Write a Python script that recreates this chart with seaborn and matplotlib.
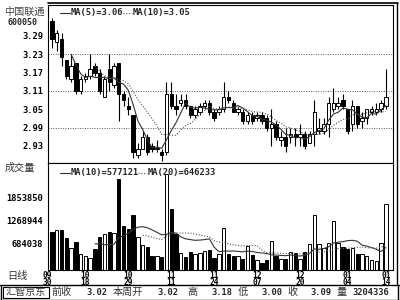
import numpy as np
import pandas as pd
import matplotlib
matplotlib.use("Agg")
import matplotlib.pyplot as plt
import seaborn as sns
from matplotlib.lines import Line2D
from matplotlib.patches import Rectangle

# ---------------- data ----------------
opens = [3.34, 3.27, 3.28, 3.21, 3.15, 3.20, 3.11, 3.15, 3.16, 3.19,
         3.17, 3.09, 3.18, 3.13, 3.20, 3.10, 3.06, 3.03, 2.90, 2.92,
         2.96, 2.93, 2.92, 2.91, 2.91, 3.10, 3.06, 3.07, 3.08, 3.06,
         3.03, 3.04, 3.06, 3.07, 3.04, 3.04, 3.05, 3.09, 3.07, 3.04,
         3.04, 3.01, 3.03, 3.02, 3.03, 3.02, 2.99, 3.00, 2.95, 2.96,
         2.96, 2.97, 2.96, 2.97, 2.94, 2.97, 2.98, 2.98, 3.00, 3.05,
         3.06, 3.08, 3.05, 3.00, 3.06, 3.01, 3.02, 3.04, 3.04, 3.05,
         3.06]
highs = [3.35, 3.31, 3.30, 3.21, 3.23, 3.20, 3.16, 3.17, 3.23, 3.20,
         3.18, 3.16, 3.23, 3.20, 3.20, 3.11, 3.09, 3.03, 2.94, 2.98,
         2.97, 2.94, 2.95, 2.92, 3.14, 3.14, 3.10, 3.10, 3.10, 3.06,
         3.06, 3.07, 3.08, 3.08, 3.05, 3.06, 3.14, 3.11, 3.08, 3.06,
         3.05, 3.04, 3.04, 3.04, 3.04, 3.03, 3.05, 3.01, 2.98, 2.99,
         2.99, 2.99, 3.00, 2.98, 2.98, 3.08, 3.02, 3.02, 3.09, 3.12,
         3.09, 3.10, 3.05, 3.08, 3.06, 3.04, 3.05, 3.06, 3.07, 3.08,
         3.18]
lows = [3.25, 3.24, 3.19, 3.15, 3.14, 3.10, 3.10, 3.14, 3.15, 3.16,
        3.10, 3.09, 3.11, 3.12, 3.01, 3.06, 3.03, 2.89, 2.89, 2.92,
        2.90, 2.91, 2.91, 2.88, 2.90, 3.05, 3.03, 3.06, 3.05, 3.02,
        3.02, 3.03, 3.05, 3.03, 3.01, 3.03, 3.04, 3.07, 3.04, 3.03,
        3.00, 3.00, 3.00, 3.01, 3.00, 2.98, 2.93, 2.95, 2.93, 2.91,
        2.94, 2.93, 2.93, 2.92, 2.94, 2.93, 2.97, 2.97, 2.96, 3.04,
        3.05, 3.05, 2.97, 2.98, 2.99, 2.99, 3.00, 3.03, 3.03, 3.04,
        3.05]
closes = [3.28, 3.30, 3.22, 3.16, 3.19, 3.11, 3.15, 3.16, 3.18, 3.17,
          3.11, 3.15, 3.14, 3.19, 3.10, 3.08, 3.05, 2.91, 2.92, 2.96,
          2.91, 2.92, 2.92, 2.90, 3.10, 3.06, 3.05, 3.08, 3.06, 3.03,
          3.05, 3.06, 3.07, 3.04, 3.02, 3.05, 3.09, 3.08, 3.04, 3.05,
          3.01, 3.03, 3.01, 3.03, 3.01, 2.99, 3.00, 2.96, 2.96, 2.93,
          2.97, 2.96, 2.97, 2.93, 2.97, 3.04, 2.99, 3.00, 3.07, 3.07,
          3.07, 3.06, 2.98, 3.06, 3.00, 3.02, 3.05, 3.05, 3.05, 3.07,
          3.09]
volumes = [970000, 1010000, 1010000, 820000, 560000, 710000, 400000, 360000, 310000, 530000,
           840000, 910000, 970000, 950000, 2310000, 1120000, 1030000, 1390000, 840000, 640000,
           590000, 350000, 360000, 320000, 2430000, 1560000, 910000, 430000, 330000, 450000,
           400000, 420000, 480000, 520000, 310000, 400000, 1080000, 410000, 360000, 360000,
           280000, 600000, 390000, 260000, 190000, 260000, 740000, 360000, 270000, 280000,
           470000, 440000, 280000, 470000, 650000, 1390000, 650000, 570000, 690000, 1250000,
           680000, 580000, 530000, 560000, 410000, 410000, 360000, 250000, 230000, 690000,
           1690000]

price_ticks = [3.29, 3.23, 3.17, 3.11, 3.05, 2.99, 2.93]
price_grid = [3.23, 3.11, 2.99]
vol_ticks = [684038, 1268944, 1853850]
date_pos = [0, 7, 16, 25, 34, 43, 52, 62, 70]
date_labels = ["09\n30", "10\n18", "10\n29", "11\n11", "11\n24", "12\n07", "12\n20", "01\n04", "01\n14"]
price_legend = ["MA(5)=3.06", "MA(10)=3.05"]
vol_legend = ["MA(10)=577121", "MA(20)=646233"]
status_items = [("前收", 62, "cjk"), ("3.02", 97, "num"), ("本周开", 128, "cjk"), ("3.02", 168, "num"),
                ("高", 192, "cjk"), ("3.18", 222, "num"), ("低", 243, "cjk"), ("3.00", 272, "num"),
                ("收", 292, "cjk"), ("3.09", 321, "num"), ("量", 342, "cjk"), ("3204336", 371, "num")]

# ---------------- setup ----------------
sns.set_style("white")
plt.rcParams["font.family"] = ["DejaVu Sans Mono", "Noto Sans CJK SC"]
plt.rcParams["font.weight"] = "bold"
CJK = ["Noto Sans CJK SC", "DejaVu Sans"]
NUM_FS = 6.3
CJK_FS = 7.3

df = pd.DataFrame({"i": np.arange(len(closes)), "open": opens, "high": highs,
                   "low": lows, "close": closes, "vol": volumes})
df["dir"] = np.where(df["close"] >= df["open"], "up", "down")
df["ma5"] = df["close"].rolling(5).mean()
df["ma10"] = df["close"].rolling(10).mean()
df["vma10"] = df["vol"].rolling(10).mean()
df["vma20"] = df["vol"].rolling(20).mean()

W, H = 400, 300
fig = plt.figure(figsize=(4, 3), dpi=100)
fig.patch.set_facecolor("white")


def rect(x0, y0, x1, y1):
    return [x0 / W, 1 - y1 / H, (x1 - x0) / W, (y1 - y0) / H]


ax_p = fig.add_axes(rect(48, 5, 393, 163))
ax_v = fig.add_axes(rect(48, 163, 393, 270))
bg = fig.add_axes([0, 0, 1, 1], zorder=10)
bg.set_xlim(0, W)
bg.set_ylim(H, 0)
bg.axis("off")
xlim = (-0.84, 71.5)

# ---------------- price panel ----------------
for g in price_grid:
    ax_p.axhline(g, color="#555555", lw=0.7, ls=(0, (1, 1.5)), zorder=1)
ax_p.vlines(df["i"], df["low"], df["high"], color="black", lw=0.8, zorder=2)
body_bottom = np.minimum(df["open"], df["close"])
body_h = np.maximum((df["close"] - df["open"]).abs(), 0.003)
ax_p.bar(df["i"], body_h, bottom=body_bottom, width=0.72,
         color=np.where(df["dir"] == "up", "white", "black"),
         edgecolor="black", linewidth=0.7, zorder=3)
sns.lineplot(data=df, x="i", y="ma5", ax=ax_p, color="#333333", lw=0.8, zorder=4)
sns.lineplot(data=df, x="i", y="ma10", ax=ax_p, color="#555555", lw=0.8,
             linestyle=(0, (1, 1.5)), zorder=4)
ax_p.set_xlim(*xlim)
ax_p.set_ylim(2.874, 3.391)
ax_p.set_yticks(price_ticks)
ax_p.set_yticklabels([f"{t:.2f}" for t in price_ticks])
ax_p.set_xticks([])
ax_p.set_xlabel("")
ax_p.set_ylabel("")
ax_p.tick_params(axis="y", direction="out", length=2, width=0.7, pad=1.5,
                 labelsize=NUM_FS, colors="black")

# ---------------- volume panel ----------------
sns.barplot(data=df, x="i", y="vol", hue="dir", palette={"up": "white", "down": "black"},
            native_scale=True, width=0.7, edgecolor="black", linewidth=0.7,
            dodge=False, legend=False, ax=ax_v, zorder=2)
sns.lineplot(data=df, x="i", y="vma10", ax=ax_v, color="#333333", lw=0.8, zorder=4)
sns.lineplot(data=df, x="i", y="vma20", ax=ax_v, color="#555555", lw=0.8,
             linestyle=(0, (1, 1.5)), zorder=4)
ax_v.set_xlim(*xlim)
ax_v.set_ylim(0, 2.72e6)
ax_v.set_yticks(vol_ticks)
ax_v.set_yticklabels([str(v) for v in vol_ticks])
ax_v.set_xticks(date_pos)
ax_v.set_xticklabels(date_labels, linespacing=0.78)
ax_v.set_xlabel("")
ax_v.set_ylabel("")
ax_v.tick_params(axis="y", direction="out", length=2, width=0.7, pad=1.5,
                 labelsize=NUM_FS, colors="black")
ax_v.tick_params(axis="x", length=0, pad=0.5, labelsize=NUM_FS - 0.6, colors="black")
first = ax_v.get_xticklabels()[0]
first.set_horizontalalignment("right")

for ax in (ax_p, ax_v):
    for s in ax.spines.values():
        s.set_color("black")
        s.set_linewidth(0.8)
    ax.set_facecolor("white")

# ---------------- legends inside panels ----------------
bg.add_line(Line2D([60, 70], [13, 13], color="#333333", lw=0.8))
bg.text(71, 13, price_legend[0], fontsize=NUM_FS, va="center", ha="left")
bg.add_line(Line2D([123, 132], [13, 13], color="#555555", lw=0.8, ls=(0, (1, 1.5))))
bg.text(133, 13, price_legend[1], fontsize=NUM_FS, va="center", ha="left")
bg.add_line(Line2D([60, 70], [172.5, 172.5], color="#333333", lw=0.8))
bg.text(71, 172.5, vol_legend[0], fontsize=NUM_FS, va="center", ha="left")
bg.add_line(Line2D([138, 147], [172.5, 172.5], color="#555555", lw=0.8, ls=(0, (1, 1.5))))
bg.text(148, 172.5, vol_legend[1], fontsize=NUM_FS, va="center", ha="left")

# ---------------- left column labels ----------------
bg.text(4, 12, "中国联通", family=CJK, fontsize=CJK_FS, weight="normal",
        color="#444444", va="center", ha="left")
bg.text(8, 22.5, "600050", fontsize=NUM_FS - 0.3, va="center", ha="left")
bg.text(5, 168, "成交量", family=CJK, fontsize=CJK_FS, weight="normal",
        color="#333333", va="center", ha="left")
bg.text(7, 276.5, "日线", family=CJK, fontsize=CJK_FS, weight="normal",
        color="#333333", va="center", ha="left")

# ---------------- frame decorations ----------------
bg.add_line(Line2D([48, 398], [2.5, 2.5], color="black", lw=1.2))
bg.add_line(Line2D([397, 397], [2.5, 284], color="black", lw=1.0))
bg.add_line(Line2D([0, 400], [284.5, 284.5], color="black", lw=1.0))
bg.add_line(Line2D([0.5, 0.5], [284.5, 299.5], color="black", lw=1.0))
bg.add_line(Line2D([398, 398], [284.5, 299.5], color="black", lw=1.0))
bg.add_line(Line2D([0, 400], [299.5, 299.5], color="black", lw=1.0))
bg.add_patch(Rectangle((2.5, 286.5), 46, 11.5, fill=False, ec="black", lw=0.8))

# ---------------- status bar ----------------
bg.text(25.5, 292.3, "汇智京东", family=CJK, fontsize=CJK_FS, weight="normal",
        color="#333333", va="center", ha="center")
for txt, xc, kind in status_items:
    if kind == "cjk":
        bg.text(xc, 292.3, txt, family=CJK, fontsize=CJK_FS, weight="normal",
                color="#333333", va="center", ha="center")
    else:
        bg.text(xc, 292.3, txt, fontsize=NUM_FS, va="center", ha="center")

fig.savefig("out.png", dpi=100, facecolor="white")
